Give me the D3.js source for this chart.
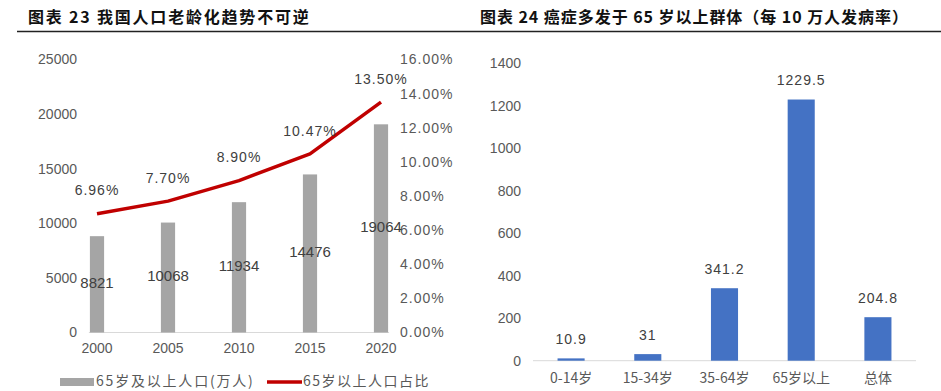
<!DOCTYPE html>
<html>
<head>
<meta charset="utf-8">
<script src="https://cdn.jsdelivr.net/npm/d3@7"></script>
<style>
  body { margin: 0; background: #fff; }
  svg { display: block; }
</style>
</head>
<body>
<svg id="chart"></svg>
<script>
// left chart data
const years = ["2000", "2005", "2010", "2015", "2020"];
const population = [8821, 10068, 11934, 14476, 19064];   // 65岁及以上人口(万人)
const ratio = [6.96, 7.70, 8.90, 10.47, 13.50];           // 65岁以上人口占比 (%)
const popTicks = [0, 5000, 10000, 15000, 20000, 25000];
const ratioTicks = [0, 2, 4, 6, 8, 10, 12, 14, 16];

// right chart data
const ageGroups = ["0-14岁", "15-34岁", "35-64岁", "65岁以上", "总体"];
const incidence = [10.9, 31, 341.2, 1229.5, 204.8];
const incTicks = [0, 200, 400, 600, 800, 1000, 1200, 1400];

const width = 941, height = 391;
const numFont = "'Liberation Sans', Arial, sans-serif";
const cjkFont = "'Noto Sans CJK SC', 'Liberation Sans', sans-serif";

const svg = d3.select('#chart')
  .attr('width', width)
  .attr('height', height)
  .attr('viewBox', [0, 0, width, height]);

/** TITLES **/
svg.append('text').attr('x', 28).attr('y', 23)
  .text('图表 23 我国人口老龄化趋势不可逆')
  .style('font-family', cjkFont).style('font-weight', 'bold')
  .style('font-size', '16px').style('letter-spacing', '1.8px').attr('fill', '#111');
svg.append('text').attr('x', 480).attr('y', 23)
  .text('图表 24 癌症多发于 65 岁以上群体（每 10 万人发病率）')
  .style('font-family', cjkFont).style('font-weight', 'bold')
  .style('font-size', '16px').style('letter-spacing', '0.95px').attr('fill', '#111');
svg.append('line').attr('x1', 17).attr('x2', 941).attr('y1', 31.5).attr('y2', 31.5)
  .attr('stroke', '#222').attr('stroke-width', 1.5);

/** LEFT CHART **/
const x1 = d3.scaleBand().domain(years).range([61.5, 416.5])
  .paddingInner(0.8).paddingOuter(0.4);
const yPop = d3.scaleLinear().domain([0, 25000]).range([332.5, 59.5]);
const yRatio = d3.scaleLinear().domain([0, 16]).range([332.5, 59.5]);

function styleAxis(g, font) {
  g.select('.domain').remove();
  g.selectAll('text').style('font-family', font).style('font-size', '14px').attr('fill', '#595959');
}

svg.append('g').attr('transform', 'translate(85,0)')
  .call(d3.axisLeft(yPop).tickValues(popTicks).tickSize(0).tickPadding(8).tickFormat(d3.format('d')))
  .call(g => styleAxis(g, numFont));
svg.append('g').attr('transform', 'translate(392,0)')
  .call(d3.axisRight(yRatio).tickValues(ratioTicks).tickSize(0).tickPadding(8).tickFormat(d => d.toFixed(2) + '%'))
  .call(g => styleAxis(g, numFont))
  .call(g => g.selectAll('text').style('letter-spacing', '1px'));

svg.append('line')
  .attr('x1', x1(years[0]) - 1).attr('x2', x1(years[years.length - 1]) + x1.bandwidth() + 1)
  .attr('y1', yPop(0)).attr('y2', yPop(0))
  .attr('stroke', '#d9d9d9').attr('stroke-width', 1);

svg.append('g').attr('transform', `translate(0,${yPop(0)})`)
  .call(d3.axisBottom(x1).tickSize(0).tickPadding(11))
  .call(g => styleAxis(g, numFont));

svg.append('g').selectAll('rect')
  .data(years)
  .join('rect')
  .attr('x', d => x1(d))
  .attr('width', x1.bandwidth())
  .attr('y', (d, i) => yPop(population[i]))
  .attr('height', (d, i) => yPop(0) - yPop(population[i]))
  .attr('fill', '#A5A5A5');

svg.append('g').selectAll('text')
  .data(years)
  .join('text')
  .attr('x', d => x1(d) + x1.bandwidth() / 2)
  .attr('y', (d, i) => yPop(population[i] / 2))
  .attr('text-anchor', 'middle')
  .attr('dominant-baseline', 'middle')
  .style('font-family', numFont).style('font-size', '15px')
  .attr('fill', '#404040')
  .text((d, i) => population[i]);

const line = d3.line()
  .x(d => x1(d[0]) + x1.bandwidth() / 2)
  .y(d => yRatio(d[1]));
svg.append('path')
  .datum(years.map((y, i) => [y, ratio[i]]))
  .attr('d', line)
  .attr('fill', 'none')
  .attr('stroke', '#C00000')
  .attr('stroke-width', 3.5)
  .attr('stroke-linejoin', 'round');

svg.append('g').selectAll('text')
  .data(years)
  .join('text')
  .attr('x', d => x1(d) + x1.bandwidth() / 2)
  .attr('y', (d, i) => yRatio(ratio[i]) - 22)
  .attr('text-anchor', 'middle')
  .attr('dominant-baseline', 'middle')
  .style('font-family', numFont).style('font-size', '14px').style('letter-spacing', '1px')
  .attr('fill', '#404040')
  .text((d, i) => ratio[i].toFixed(2) + '%');

// legend
svg.append('rect').attr('x', 60).attr('y', 378).attr('width', 34).attr('height', 8).attr('fill', '#A5A5A5');
svg.append('text').attr('x', 96).attr('y', 382).text('65岁及以上人口(万人)')
  .attr('dominant-baseline', 'middle')
  .style('font-family', cjkFont).style('font-size', '14px').style('letter-spacing', '1.8px').attr('fill', '#595959');
svg.append('line').attr('x1', 267).attr('x2', 302).attr('y1', 382).attr('y2', 382)
  .attr('stroke', '#C00000').attr('stroke-width', 3.5);
svg.append('text').attr('x', 303).attr('y', 382).text('65岁以上人口占比')
  .attr('dominant-baseline', 'middle')
  .style('font-family', cjkFont).style('font-size', '14px').style('letter-spacing', '1.5px').attr('fill', '#595959');

/** RIGHT CHART **/
const x2 = d3.scaleBand().domain(ageGroups).range([533, 916])
  .paddingInner(0.647).paddingOuter(0.32);
const yInc = d3.scaleLinear().domain([0, 1400]).range([360.7, 63.3]);

svg.append('g').attr('transform', 'translate(529,0)')
  .call(d3.axisLeft(yInc).tickValues(incTicks).tickSize(0).tickPadding(8).tickFormat(d3.format('d')))
  .call(g => styleAxis(g, numFont));

svg.append('line')
  .attr('x1', 533).attr('x2', 916)
  .attr('y1', yInc(0)).attr('y2', yInc(0))
  .attr('stroke', '#d9d9d9').attr('stroke-width', 1);

svg.append('g').attr('transform', `translate(0,${yInc(0)})`)
  .call(d3.axisBottom(x2).tickSize(0).tickPadding(12))
  .call(g => styleAxis(g, cjkFont));

svg.append('g').selectAll('rect')
  .data(ageGroups)
  .join('rect')
  .attr('x', d => x2(d))
  .attr('width', x2.bandwidth())
  .attr('y', (d, i) => yInc(incidence[i]))
  .attr('height', (d, i) => yInc(0) - yInc(incidence[i]))
  .attr('fill', '#4472C4');

svg.append('g').selectAll('text')
  .data(ageGroups)
  .join('text')
  .attr('x', d => x2(d) + x2.bandwidth() / 2)
  .attr('y', (d, i) => yInc(incidence[i]) - 18)
  .attr('text-anchor', 'middle')
  .attr('dominant-baseline', 'middle')
  .style('font-family', numFont).style('font-size', '14px').style('letter-spacing', '1px')
  .attr('fill', '#404040')
  .text((d, i) => incidence[i]);
</script>
</body>
</html>
